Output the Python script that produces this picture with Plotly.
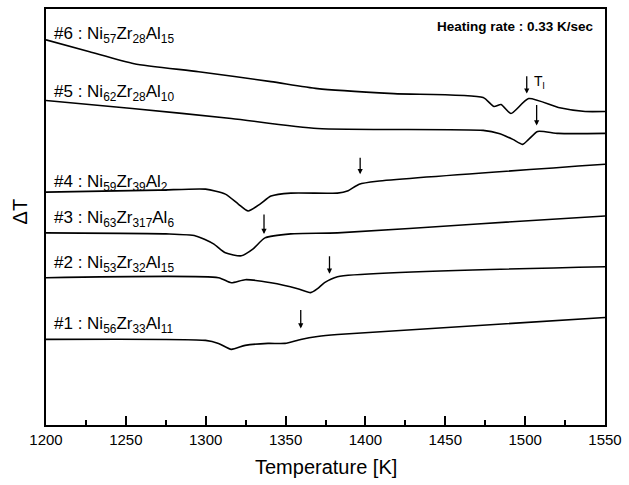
import plotly.graph_objects as go

# DTA traces of Ni-Zr-Al alloys (temperature in K, ΔT in arbitrary units, stacked)
t1 = [1200, 1299.9, 1308.0, 1316.0, 1324.7, 1339.0, 1349.6, 1359.5, 1370.0, 1382.5, 1550]
d1 = [86, 85, 82, 76, 80, 82, 82, 86, 89, 91, 108]

t2 = [1200, 1308.0, 1316.0, 1324.7, 1340.9, 1357.6, 1365.7, 1370.0, 1374.4, 1382.5, 1550]
d2 = [148, 148, 143, 146, 143, 137, 133, 137, 143, 149, 159]

t3 = [1200, 1275.1, 1293.7, 1304.9, 1312.3, 1322.3, 1329.7, 1337.1, 1353.3, 1382.5, 1470, 1550]
d3 = [193, 192, 190, 182, 173, 170, 177, 188, 192, 193, 202, 210]

t4 = [1200, 1270.7, 1299.9, 1312.3, 1320.4, 1326.6, 1334.0, 1340.9, 1353.3, 1382.5, 1388.7, 1396.1, 1407.3, 1550]
d4 = [234, 236, 237, 232, 222, 215, 222, 230, 233, 233, 235, 242, 245, 262]

t5 = [1200, 1254.0, 1316.0, 1370.0, 1473.7, 1483.6, 1492.3, 1498.5, 1502.2, 1507.8, 1520.8, 1550]
d5 = [326, 318, 308, 298, 296, 293, 287, 282, 287, 295, 293, 293]

t6 = [1200, 1227.3, 1255.2, 1295.6, 1340.9, 1370.0, 1417.8, 1473.7, 1480.5, 1484.9, 1491.1,
      1502.2, 1520.8, 1537.6, 1550]
d6 = [387, 375, 363, 355, 345, 338, 333, 329, 320, 322, 313, 328, 319, 315, 315]

alloy_ids = ["#1", "#2", "#3", "#4", "#5", "#6"]
ni = ["56", "53", "63", "59", "62", "57"]
zr = ["33", "32", "317", "39", "28", "28"]
al = ["11", "15", "6", "2", "10", "15"]
label_y = [100, 162, 207, 243, 334, 392]

# liquidus temperatures marked by arrows: (T, arrow top, arrow tip)
liquidus_t = [1359.5, 1377.5, 1336.5, 1396.7, 1507.2, 1501.0]
arrow_top = [117, 171, 213, 270, 323, 352]
arrow_tip = [97, 152, 192, 252, 301, 333]

series = [(t1, d1), (t2, d2), (t3, d3), (t4, d4), (t5, d5), (t6, d6)]

FONT = "Liberation Sans, Arial, sans-serif"

labels = [f"{a} : Ni<sub>{n}</sub>Zr<sub>{z}</sub>Al<sub>{l}</sub>"
          for a, n, z, l in zip(alloy_ids, ni, zr, al)]

fig = go.Figure()
for (tt, dd), name in zip(series, labels):
    fig.add_trace(go.Scatter(x=tt, y=dd, mode="lines", name=name,
                             line=dict(color="black", width=1.6, shape="spline", smoothing=0.6),
                             showlegend=False, hoverinfo="skip"))

annotations = []
for lab, ly in zip(labels, label_y):
    annotations.append(dict(x=1204, y=ly, xref="x", yref="y", text=lab, showarrow=False,
                            xanchor="left", yanchor="middle",
                            font=dict(family=FONT, size=17, color="black")))

for t, top, tip in zip(liquidus_t, arrow_top, arrow_tip):
    annotations.append(dict(x=t, y=tip, ax=t, ay=top, xref="x", yref="y",
                            axref="x", ayref="y", text="", showarrow=True,
                            arrowhead=2, arrowsize=0.8, arrowwidth=1.3,
                            arrowcolor="black", standoff=0))

annotations.append(dict(x=1504.5, y=345, xref="x", yref="y", text="T<sub>l</sub>",
                        showarrow=False, xanchor="left", yanchor="middle",
                        font=dict(family=FONT, size=14, color="black")))

annotations.append(dict(x=0.984, y=0.957, xref="paper", yref="paper",
                        text="<b>Heating rate : 0.33 K/sec</b>", showarrow=False,
                        xanchor="right", yanchor="middle",
                        font=dict(family=FONT, size=13.5, color="black")))

annotations.append(dict(x=-0.046, y=0.514, xref="paper", yref="paper", text="ΔT",
                        showarrow=False, textangle=-90, xanchor="center", yanchor="middle",
                        font=dict(family=FONT, size=20, color="black")))

annotations.append(dict(x=0.5, y=-0.1, xref="paper", yref="paper", text="Temperature [K]",
                        showarrow=False, xanchor="center", yanchor="middle",
                        font=dict(family=FONT, size=20, color="black")))

fig.update_layout(
    width=629, height=485,
    margin=dict(l=46, r=19, t=7, b=60),
    paper_bgcolor="white", plot_bgcolor="white",
    annotations=annotations,
    font=dict(family=FONT, color="black"),
)

fig.update_xaxes(range=[1200, 1550], dtick=50, tick0=1200, ticks="inside", ticklen=9,
                 tickwidth=1.5, tickcolor="black", showline=True, linecolor="black",
                 linewidth=2, mirror=True, showgrid=False, zeroline=False,
                 tickfont=dict(family=FONT, size=15, color="black"),
                 minor=dict(ticks="inside", dtick=25, ticklen=5, tickwidth=1.5,
                            tickcolor="black", showgrid=False))
fig.update_yaxes(range=[0, 418], showticklabels=False, ticks="", showline=True,
                 linecolor="black", linewidth=2, mirror=True, showgrid=False,
                 zeroline=False)

fig.write_html("out.html")
